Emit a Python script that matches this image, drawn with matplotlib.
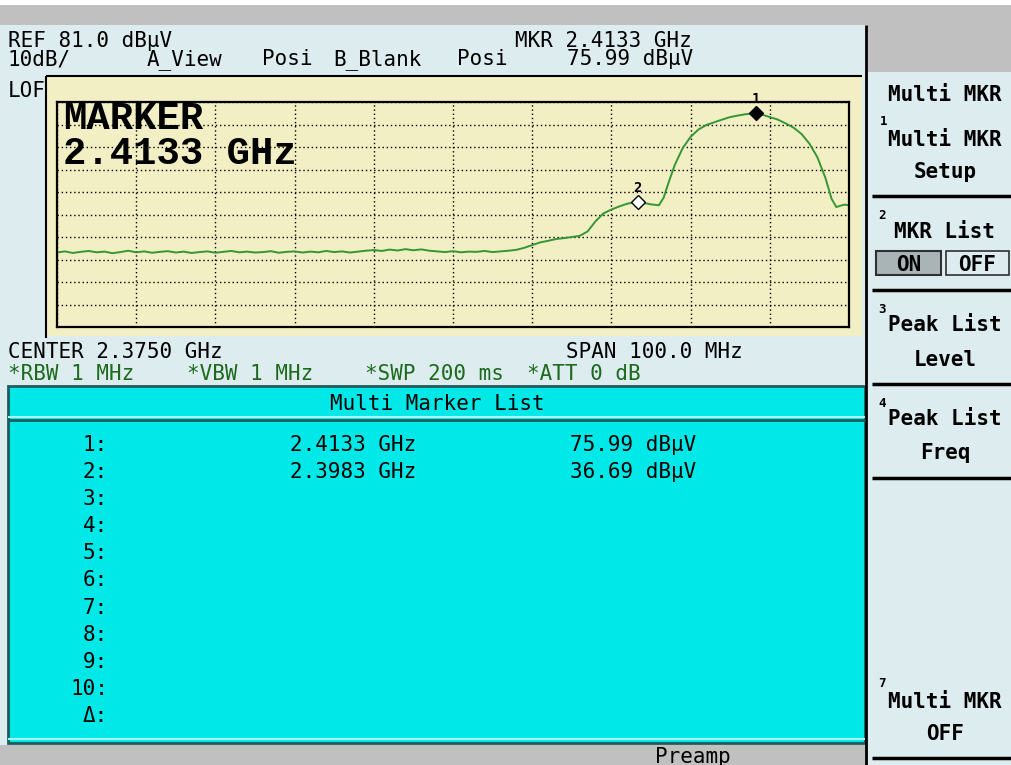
import matplotlib.pyplot as plt
from matplotlib.patches import Rectangle

# analyzer settings
center_ghz = 2.375
span_mhz = 100.0
ref_level = 81.0
db_per_div = 10

# trace (MHz, dBuV)
floor_freq = list(range(2325, 2385))
floor_level = [14.1, 14.6, 13.9, 14.4, 14.8, 14.2, 14.5, 13.8, 14.3, 14.9,
               14.2, 14.6, 14.0, 14.4, 14.7, 14.1, 14.5, 13.9, 14.3, 14.6,
               14.0, 14.4, 14.8, 14.2, 14.5, 14.1, 14.3, 14.7, 14.0, 14.4,
               14.6, 14.1, 14.5, 14.2, 14.8, 14.3, 14.6, 14.1, 14.5, 14.9,
               15.2, 14.8, 15.4, 15.0, 15.6, 15.1, 15.5, 14.9, 14.6, 14.3,
               14.7, 14.2, 14.5, 14.4, 14.8, 14.3, 14.6, 14.9, 15.3, 16.2]
signal_freq = [2385, 2386, 2387, 2388, 2389, 2390, 2391, 2392, 2393, 2394,
               2395, 2396, 2397, 2398.3, 2399, 2400, 2401, 2401.6, 2402.2, 2403,
               2404, 2405, 2406, 2407, 2408, 2409, 2410, 2411, 2412, 2413.3,
               2414, 2415, 2416, 2417, 2418, 2419, 2420, 2421, 2422, 2422.8,
               2423.4, 2424, 2424.5, 2425]
signal_level = [17.4, 18.6, 19.3, 20.1, 20.5, 21.0, 21.5, 23.5, 28.0, 31.5,
                33.2, 34.6, 35.8, 36.7, 36.2, 35.5, 35.1, 38.5, 45.0, 53.0,
                60.5, 65.5, 68.8, 70.8, 72.0, 73.2, 74.3, 75.0, 75.6, 76.0,
                75.4, 74.3, 73.2, 71.5, 69.6, 66.8, 62.5, 56.5, 47.5, 38.0,
                34.3, 35.0, 35.4, 35.0]

marker_freq = [2413.3, 2398.3]
marker_level = [75.99, 36.69]
marker_labels = ['1', '2']
list_rows = ['1:', '2:', '3:', '4:', '5:', '6:', '7:', '8:', '9:', '10:', 'Δ:']

W, H = 1012, 765
LIGHT = '#dcecef'
YELLOW = '#f3efc4'
CYAN = '#00e8e8'
GRAY = '#c0c0c0'
TRACE = '#349634'
DKGREEN = '#1d6a1d'
MONO = 'DejaVu Sans Mono'

fig = plt.figure(figsize=(W / 100, H / 100), dpi=100)
bg = fig.add_axes([0, 0, 1, 1])
bg.set_xlim(0, W)
bg.set_ylim(H, 0)
bg.axis('off')


def rect(x0, y0, x1, y1, fc, ec='none', lw=0):
    bg.add_patch(Rectangle((x0, y0), x1 - x0, y1 - y0, facecolor=fc, edgecolor=ec, linewidth=lw))


def hline(y, x0, x1, color='black', lw=1.5):
    bg.plot([x0, x1], [y, y], color=color, lw=lw, solid_capstyle='butt')


def vline(x, y0, y1, color='black', lw=1.5):
    bg.plot([x, x], [y0, y1], color=color, lw=lw, solid_capstyle='butt')


def txt(x, y, s, size=15, color='black', ha='left', weight='normal', family=MONO):
    bg.text(x, y, s, fontsize=size, color=color, ha=ha, va='baseline',
            fontweight=weight, family=family)


# screen background
rect(0, 0, W, H, LIGHT)
rect(0, 0, W, 5, 'white')
rect(0, 5, W, 25, GRAY)
rect(867, 25, W, 72, GRAY)
rect(0, 745, 866, H, GRAY)
rect(47, 76, 862, 336, YELLOW)
vline(46.5, 76, 338)
hline(75.5, 46, 862)
vline(866.5, 25, H, lw=2)

# header texts
m1_ghz = marker_freq[0] / 1000
txt(8, 47, f'REF {ref_level:.1f} dBµV')
txt(515, 47, f'MKR {m1_ghz:.4f} GHz')
txt(8, 65, f'{db_per_div}dB/')
txt(147, 65, 'A_View')
txt(262, 65, 'Posi')
txt(333, 65, 'B_Blank')
txt(457, 65, 'Posi')
txt(567, 65, f'{marker_level[0]:.2f} dBµV')
txt(8, 97, 'LOF')
txt(8, 358, f'CENTER {center_ghz:.4f} GHz')
txt(566, 358, f'SPAN {span_mhz:.1f} MHz')
txt(8, 380, '*RBW 1 MHz', color=DKGREEN)
txt(187, 380, '*VBW 1 MHz', color=DKGREEN)
txt(365, 380, '*SWP 200 ms', color=DKGREEN)
txt(527, 380, '*ATT 0 dB', color=DKGREEN)

# marker list box
rect(8, 386, 865, 743, CYAN, ec='#1f5c5c', lw=2)
hline(417, 8, 865, color='#a8f4f4', lw=1.5)
hline(419.5, 8, 865, color='#1f5c5c', lw=2)
hline(739, 8, 865, color='#a8f4f4', lw=1.5)
txt(437, 410, 'Multi Marker List', ha='center')
for i, row in enumerate(list_rows):
    y = 451 + 27.1 * i
    txt(108, y, row, ha='right')
    if i < len(marker_freq):
        txt(290, y, f'{marker_freq[i] / 1000:.4f} GHz')
        txt(570, y, f'{marker_level[i]:.2f} dBµV')
txt(655, 763, 'Preamp')

# soft key panel
PX = 945
txt(PX, 101, 'Multi MKR', ha='center', weight='bold')
txt(880, 125, '1', size=9, weight='bold')
txt(PX, 146, 'Multi MKR', ha='center', weight='bold')
txt(PX, 178, 'Setup', ha='center', weight='bold')
hline(196, 872, W, lw=2.5)
txt(878, 219, '2', size=9, weight='bold')
txt(PX, 238, 'MKR List', ha='center', weight='bold')
rect(876, 251, 941, 275, '#a9b4b7', ec='#303030', lw=1.5)
rect(946, 251, 1009, 275, LIGHT, ec='#303030', lw=1.2)
txt(908.5, 271, 'ON', ha='center', weight='bold')
txt(977.5, 271, 'OFF', ha='center', weight='bold')
hline(290, 872, W, lw=2.5)
txt(878, 313, '3', size=9, weight='bold')
txt(PX, 331, 'Peak List', ha='center', weight='bold')
txt(PX, 366, 'Level', ha='center', weight='bold')
hline(384, 872, W, lw=2.5)
txt(878, 407, '4', size=9, weight='bold')
txt(PX, 425, 'Peak List', ha='center', weight='bold')
txt(PX, 459, 'Freq', ha='center', weight='bold')
hline(478, 872, W, lw=2.5)
txt(878, 687, '7', size=9, weight='bold')
txt(PX, 708, 'Multi MKR', ha='center', weight='bold')
txt(PX, 740, 'OFF', ha='center', weight='bold')
hline(758, 872, W, lw=2.5)

# graticule
gx0, gx1, gy0, gy1 = 57, 849, 102, 327
ax = fig.add_axes([gx0 / W, 1 - gy1 / H, (gx1 - gx0) / W, (gy1 - gy0) / H])
ax.set_facecolor('none')
f0 = center_ghz * 1000 - span_mhz / 2
f1 = center_ghz * 1000 + span_mhz / 2
ax.set_xlim(f0, f1)
ax.set_ylim(ref_level - 10 * db_per_div, ref_level)
ax.set_xticks([f0 + span_mhz / 10 * k for k in range(11)])
ax.set_yticks([ref_level - db_per_div * k for k in range(11)])
ax.tick_params(length=0, labelbottom=False, labelleft=False)
ax.grid(True, color='black', linestyle=(0, (1, 2)), linewidth=1)
for s in ax.spines.values():
    s.set_linewidth(1.6)

ax.plot(floor_freq + signal_freq, floor_level + signal_level, color=TRACE, lw=1.4)
ax.plot(marker_freq[0], marker_level[0], marker='D', ms=7, color='black', clip_on=False)
ax.plot(marker_freq[1], marker_level[1], marker='D', ms=7, mfc='white', mec='black', mew=1, clip_on=False)
for f, l, lab in zip(marker_freq, marker_level, marker_labels):
    ax.annotate(lab, (f, l), xytext=(0, 5), textcoords='offset points', ha='center',
                va='bottom', fontsize=10, fontweight='bold', family=MONO, annotation_clip=False)

# big marker readout, one text block so the two lines sit tight
bg.text(63, 101, f'MARKER\n{m1_ghz:.4f} GHz', ha='left', va='top', fontsize=28,
        fontweight='bold', family='Liberation Mono', linespacing=0.95)

fig.savefig('out.png', dpi=100)
